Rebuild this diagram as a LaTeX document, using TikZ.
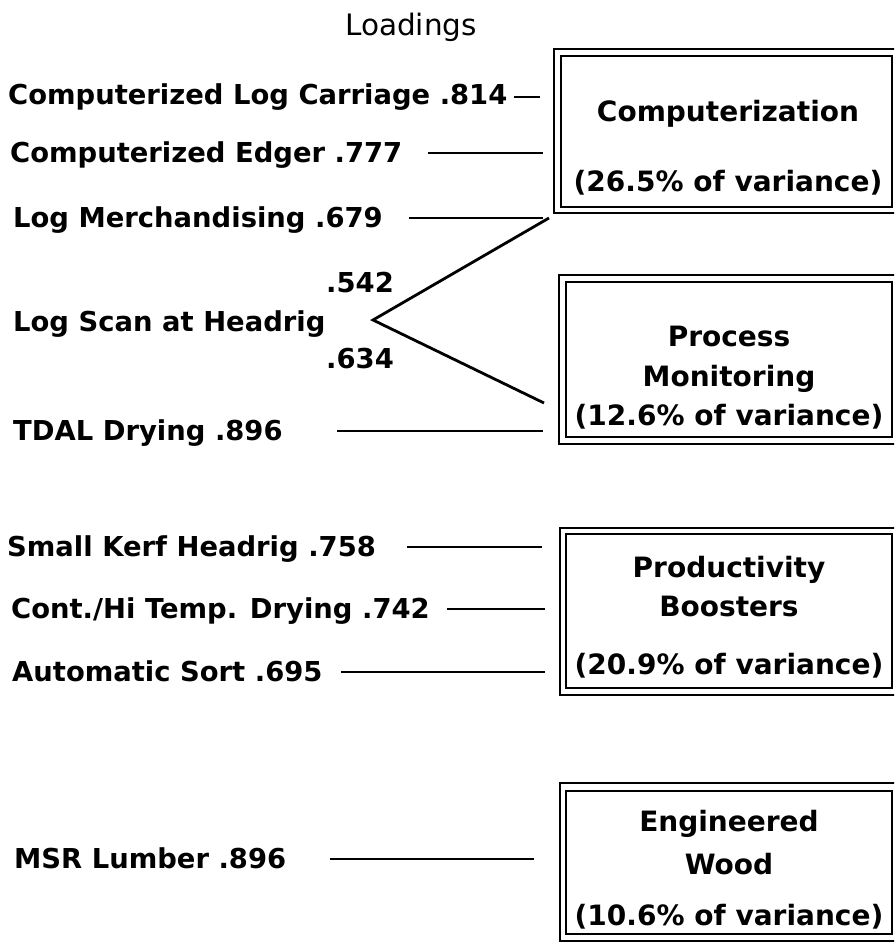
\documentclass[tikz,border=0pt]{standalone}
\usepackage{fontspec}
\usetikzlibrary{shapes.misc}
\newfontfamily\labfam{DejaVu Sans}
\tikzset{
  lab/.style={anchor=base west, inner sep=0pt, font=\labfam\bfseries\fontsize{27.4}{30}\selectfont},
  num/.style={anchor=base east, inner sep=0pt, font=\labfam\bfseries\fontsize{27.4}{30}\selectfont},
  boxtxt/.style={anchor=base, inner sep=0pt, font=\labfam\bfseries\fontsize{28}{32}\selectfont},
  outerbox/.style={draw, line width=1.8pt, rectangle, inner sep=0pt},
  innerbox/.style={draw, line width=1.8pt, chamfered rectangle, chamfered rectangle xsep=8pt, chamfered rectangle ysep=8pt, inner sep=0pt},
  conn/.style={line width=2.8pt}
}
\begin{document}
\begin{tikzpicture}[x=1pt,y=-1pt]
\useasboundingbox (0,0) rectangle (894,944);
\clip (0,0) rectangle (894,944);

% heading
\node[anchor=base, inner sep=0pt, font=\labfam\fontsize{29.5}{32}\selectfont] (head) at (411,36) {Loadings};

% left labels
\node[lab] (t1) at (8,105) {Computerized Log Carriage .814};
\node[lab] (t2) at (10,163) {Computerized Edger .777};
\node[lab] (t3) at (13,227) {Log Merchandising .679};
\node[num] (n1) at (394,292) {.542};
\node[lab] (t4) at (13,331) {Log Scan at Headrig};
\node[num] (n2) at (394,368) {.634};
\node[lab] (t5) at (13,440) {TDAL Drying .896};
\node[lab] (t6) at (7,556) {Small Kerf Headrig .758};
\node[lab] (t7) at (11,618) {Cont./Hi Temp. Drying .742};
\node[lab] (t8) at (12,681) {Automatic Sort .695};
\node[lab] (t9) at (14,868) {MSR Lumber .896};

% boxes
\node[outerbox, minimum width=346pt, minimum height=164pt] (B1) at (727,131) {};
\node[innerbox, minimum width=331pt, minimum height=151pt] (I1) at (726.5,131.5) {};
\node[outerbox, minimum width=341pt, minimum height=169pt] (B2) at (729.5,359.5) {};
\node[innerbox, minimum width=326pt, minimum height=155pt] (I2) at (729,359.5) {};
\node[outerbox, minimum width=340pt, minimum height=167pt] (B3) at (730,611.5) {};
\node[innerbox, minimum width=326pt, minimum height=154pt] (I3) at (729,611) {};
\node[outerbox, minimum width=340pt, minimum height=158pt] (B4) at (730,862) {};
\node[innerbox, minimum width=326pt, minimum height=143pt] (I4) at (729,862.5) {};

% box texts
\node[boxtxt] (c1a) at (728,122) {Computerization};
\node[boxtxt] (c1b) at (728,192) {(26.5\% of variance)};
\node[boxtxt] (c2a) at (729,346) {Process};
\node[boxtxt] (c2b) at (729,386) {Monitoring};
\node[boxtxt] (c2c) at (729,425) {(12.6\% of variance)};
\node[boxtxt] (c3a) at (729,577) {Productivity};
\node[boxtxt] (c3b) at (729,616) {Boosters};
\node[boxtxt] (c3c) at (729,674) {(20.9\% of variance)};
\node[boxtxt] (c4a) at (729,831) {Engineered};
\node[boxtxt] (c4b) at (729,874) {Wood};
\node[boxtxt] (c4c) at (729,925) {(10.6\% of variance)};

% connector end points
\coordinate (a1) at (514,97);  \coordinate (b1) at (540,97);
\coordinate (a2) at (428,153); \coordinate (b2) at (543,153);
\coordinate (a3) at (409,218); \coordinate (b3) at (543,218);
\coordinate (v)  at (373,320);
\coordinate (d1) at (549,218); \coordinate (d2) at (544,403);
\coordinate (a5) at (337,431); \coordinate (b5) at (543,431);
\coordinate (a6) at (407,547); \coordinate (b6) at (542,547);
\coordinate (a7) at (447,609); \coordinate (b7) at (545,609);
\coordinate (a8) at (341,672); \coordinate (b8) at (545,672);
\coordinate (a9) at (330,859); \coordinate (b9) at (534,859);

\draw[conn] (a1) -- (b1);
\draw[conn] (a2) -- (b2);
\draw[conn] (a3) -- (b3);
\draw[conn, line join=miter] (d1) -- (v) -- (d2);
\draw[conn] (a5) -- (b5);
\draw[conn] (a6) -- (b6);
\draw[conn] (a7) -- (b7);
\draw[conn] (a8) -- (b8);
\draw[conn] (a9) -- (b9);
\end{tikzpicture}
\end{document}
